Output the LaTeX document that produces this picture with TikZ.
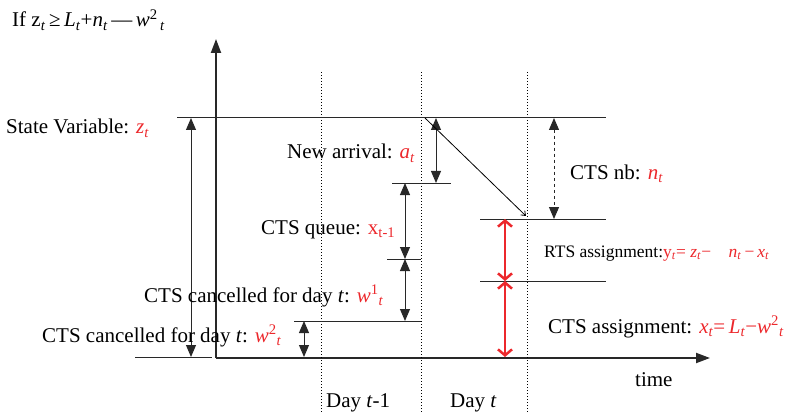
\documentclass[tikz,border=0pt]{standalone}
\usepackage{fontspec}
\setmainfont{Liberation Serif}
\usetikzlibrary{arrows.meta}
\definecolor{myred}{RGB}{236,40,44}
\definecolor{lncol}{RGB}{40,40,40}
\newcommand{\rd}[1]{\textcolor{myred}{#1}}
\newcommand{\lsb}[1]{\textsubscript{#1}}
\newcommand{\lsp}[1]{\textsuperscript{#1}}
\newcommand{\ita}[1]{\textit{#1}}
\tikzset{
  lbl/.style={inner sep=0pt, font=\fontsize{21}{25}\selectfont},
  smlbl/.style={inner sep=0pt, font=\fontsize{17.5}{21}\selectfont},
  thinln/.style={draw=lncol, line width=1pt},
  dayln/.style={draw=black, line width=1pt, dotted},
  axisln/.style={draw=lncol, line width=2pt, -{Triangle[length=14pt,width=10pt]}},
  dblarr/.style={draw=lncol, line width=1pt, {Triangle[length=12pt,width=10pt]}-{Triangle[length=12pt,width=10pt]}},
  redarr/.style={draw=myred, line width=2.5pt, {Straight Barb[length=6pt,width=14pt]}-{Straight Barb[length=6pt,width=14pt]}}
}
\begin{document}
\begin{tikzpicture}[x=1pt,y=-1pt]
\useasboundingbox (0,0) rectangle (786,414);
% axes
\coordinate (O) at (216,358);
\coordinate (Ytop) at (216,39);
\coordinate (Xend) at (710,358);
\draw[axisln] (O) -- (Ytop);
\draw[axisln] (O) -- (Xend);
% day separators
\coordinate (d1t) at (321,72); \coordinate (d1b) at (321,414);
\coordinate (d2t) at (421,72); \coordinate (d2b) at (421,414);
\coordinate (d3t) at (527,72); \coordinate (d3b) at (527,414);
\draw[dayln] (d1t) -- (d1b);
\draw[dayln] (d2t) -- (d2b);
\draw[dayln] (d3t) -- (d3b);
% horizontal level lines
\coordinate (topL) at (177,118); \coordinate (topR) at (606,118);
\coordinate (botL) at (135,357); \coordinate (botR) at (212,357);
\coordinate (arrL) at (392,183); \coordinate (arrR) at (451,183);
\coordinate (quL) at (387,259); \coordinate (quR) at (421,259);
\coordinate (w1L) at (294,321); \coordinate (w1R) at (421,321);
\coordinate (nbL) at (480,219); \coordinate (nbR) at (606,219);
\coordinate (rtL) at (480,281); \coordinate (rtR) at (606,281);
\draw[thinln] (topL) -- (topR);
\draw[thinln] (botL) -- (botR);
\draw[thinln] (arrL) -- (arrR);
\draw[thinln] (quL) -- (quR);
\draw[thinln] (w1L) -- (w1R);
\draw[thinln] (nbL) -- (nbR);
\draw[thinln] (rtL) -- (rtR);
% arrows
\coordinate (zA) at (191,118); \coordinate (zB) at (191,357);
\draw[dblarr] (zA) -- (zB);
\coordinate (aA) at (436,118); \coordinate (aB) at (436,183);
\draw[dblarr] (aA) -- (aB);
\coordinate (qA) at (405,183); \coordinate (qB) at (405,259);
\draw[dblarr] (qA) -- (qB);
\coordinate (w1A) at (405,259); \coordinate (w1B) at (405,321);
\draw[dblarr] (w1A) -- (w1B);
\coordinate (w2A) at (304,321); \coordinate (w2B) at (304,357);
\draw[dblarr] (w2A) -- (w2B);
\coordinate (nA) at (554,118); \coordinate (nB) at (554,219);
\draw[dblarr, dashed] (nA) -- (nB);
\coordinate (dgA) at (425,118); \coordinate (dgB) at (526,216);
\draw[draw=black, line width=0.8pt, -{Straight Barb[length=4pt,width=6pt]}] (dgA) -- (dgB);
\coordinate (rA) at (505,219); \coordinate (rB) at (505,281); \coordinate (rC) at (505,357);
\draw[redarr] (rA) -- (rB);
\draw[redarr] (rB) -- (rC);
% labels
\node[lbl, anchor=base west] (cond) at (12,27) {If z\lsb{\ita{t}}\,≥\,\ita{L}\lsb{\ita{t}}+\ita{n}\lsb{\ita{t}}\,—\,\ita{w}\lsp{2}\lsb{\,\ita{t}}};
\node[lbl, anchor=base west] (state) at (6,134) {State Variable: \rd{\ita{z}\lsb{\ita{t}}}};
\node[lbl, anchor=base west] (newarr) at (287,159) {New arrival: \rd{\ita{a}\lsb{\ita{t}}}};
\node[lbl, anchor=base west] (queue) at (261,234) {CTS queue: \rd{x\lsb{t-1}}};
\node[lbl, anchor=base west] (canc1) at (144,302) {CTS cancelled for day \ita{t}: \rd{\ita{w}\lsp{1}\lsb{\ita{t}}}};
\node[lbl, anchor=base west] (canc2) at (42,342) {CTS cancelled for day \ita{t}: \rd{\ita{w}\lsp{2}\lsb{\ita{t}}}};
\node[lbl, anchor=base west] (ctsnb) at (570,179) {CTS nb: \rd{\ita{n}\lsb{\ita{t}}}};
\node[smlbl, anchor=base west] (rts) at (544,257) {RTS assignment:\rd{y\lsb{\ita{t}}= \ita{z}\lsb{\ita{t}}−\hspace{1em}\ita{n}\lsb{\ita{t}}\,−\,\ita{x}\lsb{\ita{t}}}};
\node[lbl, anchor=base west] (ctsas) at (548,333) {CTS assignment: \rd{\ita{x}\lsb{\ita{t}}=\,\ita{L}\lsb{\ita{t}}−\ita{w}\lsp{2}\lsb{\ita{t}}}};
\node[lbl, anchor=base west] (time) at (635,386) {time};
\node[lbl, anchor=base west] (day1) at (326,407) {Day \ita{t}-1};
\node[lbl, anchor=base west] (day2) at (450,407) {Day \ita{t}};
\end{tikzpicture}
\end{document}
